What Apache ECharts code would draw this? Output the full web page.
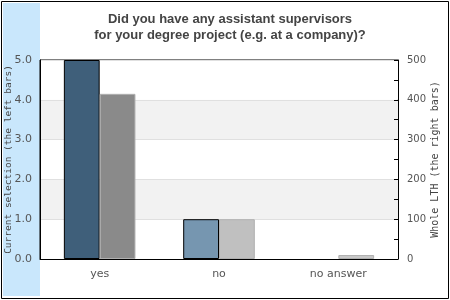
<!DOCTYPE html>
<html><head><meta charset="utf-8">
<script src="https://cdn.jsdelivr.net/npm/echarts@6/dist/echarts.min.js"></script>
<style>html,body{margin:0;padding:0;background:#fff}#c{width:450px;height:300px}</style>
</head><body><div id="c"></div>
<script>
var categories = ['yes', 'no', 'no answer'];
var currentSelection = [5, 1, 0];
var wholeLTH = [415, 100, 10];
var leftTicks = ['0.0', '1.0', '2.0', '3.0', '4.0', '5.0'];
var rightTicks = ['0', '100', '200', '300', '400', '500'];
var leftColors = ['#3f5f7a', '#7696b0', '#a9bdd0'];
var rightColors = ['#8a8a8a', '#c0c0c0', '#c8c8c8'];

var chart = echarts.init(document.getElementById('c'), null, {renderer: 'canvas'});
var option = {
  animation: false,
  backgroundColor: '#fff',
  title: {
    text: 'Did you have any assistant supervisors\nfor your degree project (e.g. at a company)?',
    left: 225, top: 6, textAlign: 'center',
    textStyle: {fontFamily: 'Liberation Sans, Arial', fontWeight: 'bold', fontSize: 13, color: '#444', lineHeight: 16}
  },
  graphic: [
    {type: 'rect', z: -10, shape: {x: 1.5, y: 1.5, width: 447, height: 297}, style: {fill: '#fff', stroke: '#000', lineWidth: 1}},
    {type: 'rect', z: -9, shape: {x: 3, y: 3, width: 37, height: 293}, style: {fill: '#c9e7fc'}}
  ],
  grid: {left: 40, top: 60, width: 358, height: 199, outerBoundsMode: 'none', containLabel: false,
    show: true, borderColor: '#000', borderWidth: 1, backgroundColor: 'transparent'},
  xAxis: {
    type: 'category', data: categories,
    axisLine: {lineStyle: {color: '#000'}}, axisTick: {show: false},
    axisLabel: {color: '#555', fontFamily: 'DejaVu Sans', fontSize: 11, margin: 10}
  },
  yAxis: [
    {
      type: 'value', min: 0, max: 5, interval: 1, position: 'left',
      name: 'Current selection (the left bars)', nameLocation: 'middle', nameRotate: 90, nameGap: 26,
      nameMoveOverlap: false,
      nameTextStyle: {fontFamily: 'DejaVu Sans Mono', fontSize: 9.5, color: '#444'},
      axisLine: {show: true, lineStyle: {color: '#000'}}, axisTick: {show: false},
      axisLabel: {color: '#555', fontFamily: 'DejaVu Sans', fontSize: 11, margin: 8,
        formatter: function (v) { return leftTicks[Math.round(v)]; }},
      splitLine: {show: true, lineStyle: {color: '#e0e0e0'}},
      splitArea: {show: true, areaStyle: {color: ['#ffffff', '#f2f2f2']}}
    },
    {
      type: 'value', min: 0, max: 500, interval: 100, position: 'right',
      name: 'Whole LTH (the right bars)', nameLocation: 'middle', nameRotate: 90, nameGap: 32,
      nameMoveOverlap: false,
      nameTextStyle: {fontFamily: 'DejaVu Sans Mono', fontSize: 10, color: '#444'},
      axisLine: {show: true, lineStyle: {color: '#000'}},
      axisTick: {show: true, inside: true, length: 4, lineStyle: {color: '#000'}},
      minorTick: {show: true, splitNumber: 2, length: 4, lineStyle: {color: '#000'}},
      axisLabel: {color: '#555', fontFamily: 'DejaVu Sans', fontSize: 10, margin: 9,
        formatter: function (v) { return rightTicks[Math.round(v / 100)]; }},
      splitLine: {show: false}
    }
  ],
  series: [
    {
      type: 'bar', yAxisIndex: 0, barWidth: '30%', barGap: '0%',
      data: currentSelection.map(function (v, i) {
        return {value: v, itemStyle: {color: leftColors[i], borderWidth: v === 0 ? 0 : 1}};
      }),
      itemStyle: {borderColor: '#000', borderWidth: 1}
    },
    {
      type: 'bar', yAxisIndex: 1, barWidth: '30%', barGap: '0%',
      data: wholeLTH.map(function (v, i) { return {value: v, itemStyle: {color: rightColors[i]}}; }),
      itemStyle: {borderColor: '#b0b0b0', borderWidth: 1}
    }
  ]
};
chart.setOption(option);
</script>
</body></html>
